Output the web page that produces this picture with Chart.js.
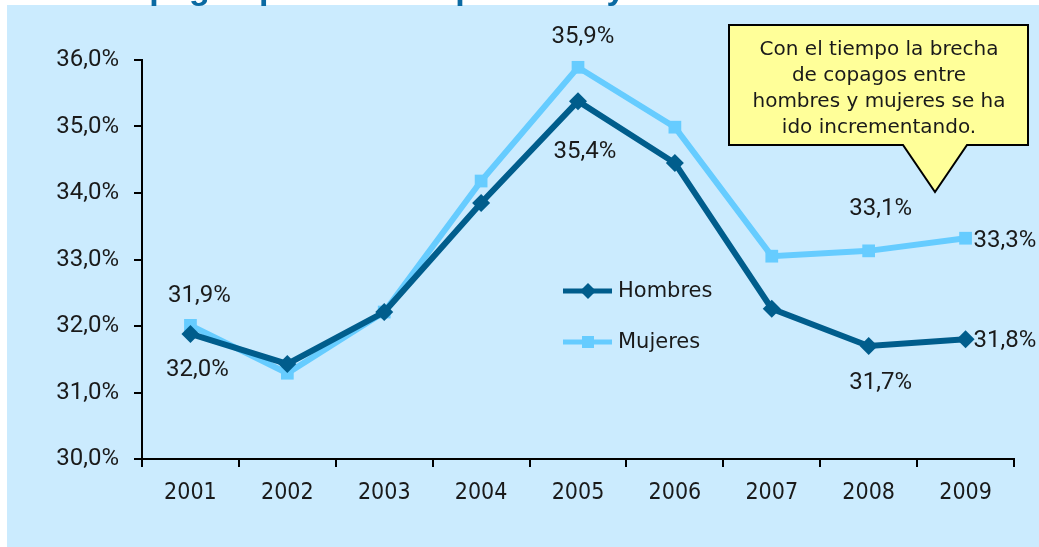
<!DOCTYPE html>
<html>
<head>
<meta charset="utf-8">
<script src="https://cdn.jsdelivr.net/npm/chart.js@4"></script>
<style>
  html, body { margin: 0; padding: 0; background: #ffffff; }
  #wrap { width: 1039px; height: 547px; position: relative; }
</style>
</head>
<body>
<div id="wrap"><canvas id="copagoChart" width="1039" height="547"></canvas></div>
<script>
// datos
const years = ['2001','2002','2003','2004','2005','2006','2007','2008','2009'];
const hombres = [31.88, 31.43, 32.21, 33.85, 35.38, 34.45, 32.26, 31.70, 31.80];
const mujeres = [32.01, 31.29, 32.21, 34.18, 35.89, 34.99, 33.05, 33.13, 33.32];
const yTickLabels = ['30,0%','31,0%','32,0%','33,0%','34,0%','35,0%','36,0%'];
const calloutLines = ['Con el tiempo la brecha', 'de copagos entre', 'hombres y mujeres se ha', 'ido incrementando.'];

// etiquetas de valor: [serie, índice, dx, dy, alineación]
const valueLabels = [
    [0, 0, 9, -38, 'center'],
    [1, 0, 7, 45, 'center'],
    [1, 4, 5, -30, 'center'],
    [0, 4, 7, 51, 'center'],
    [1, 7, 12, -42, 'center'],
    [1, 8, 8, 3, 'left'],
    [0, 8, 8, 2, 'left'],
    [0, 7, 12, 37, 'center']
];

const fmt = v => v.toFixed(1).replace('.', ',') + '%';

const numFont = '24px Roboto, "DejaVu Sans", sans-serif';
const roundFont = '21px "DejaVu Sans", sans-serif';
const noteFont = '20px "DejaVu Sans", sans-serif';

Chart.register({

    id: 'panelAndNotes',

    beforeDraw(chart) {
        const {ctx} = chart;
        ctx.save();
        ctx.fillStyle = '#ffffff';
        ctx.fillRect(0, 0, chart.width, chart.height);
        ctx.fillStyle = '#cbebfe';
        ctx.fillRect(7, 5, chart.width - 7, chart.height - 5);

        // título recortado arriba
        ctx.fillStyle = '#0b6aa2';
        ctx.font = 'bold 34px "Liberation Sans", Arial, sans-serif';
        ctx.textBaseline = 'alphabetic';
        ctx.textAlign = 'left';
        ctx.fillText('Copagos por usuario por sexo y año', 104, -1);
        ctx.restore();
    },

    afterDatasetsDraw(chart) {
        const {ctx} = chart;
        ctx.save();

        // etiquetas de valores
        ctx.fillStyle = '#1a1a1a';
        ctx.font = numFont;
        ctx.textBaseline = 'middle';
        valueLabels.forEach(([ds, i, dx, dy, align]) => {
            const pt = chart.getDatasetMeta(ds).data[i];
            const value = chart.data.datasets[ds].data[i];
            ctx.textAlign = align;
            ctx.fillText(fmt(value), pt.x + dx, pt.y + dy);
        });

        // leyenda dentro del gráfico
        const legendY = [291, 342];
        chart.data.datasets.forEach((dataset, i) => {
            const y = legendY[i];
            ctx.strokeStyle = dataset.borderColor;
            ctx.lineWidth = 5;
            ctx.beginPath();
            ctx.moveTo(563, y);
            ctx.lineTo(612, y);
            ctx.stroke();
            ctx.fillStyle = dataset.borderColor;
            ctx.beginPath();
            if (dataset.pointStyle === 'rectRot') {
                ctx.moveTo(588, y - 8);
                ctx.lineTo(596, y);
                ctx.lineTo(588, y + 8);
                ctx.lineTo(580, y);
            } else {
                ctx.rect(582, y - 6, 12, 12);
            }
            ctx.fill();
            ctx.fillStyle = '#1a1a1a';
            ctx.font = roundFont;
            ctx.textAlign = 'left';
            ctx.fillText(dataset.label, 618, y + 1);
        });

        // globo de comentario
        ctx.beginPath();
        ctx.moveTo(729, 25);
        ctx.lineTo(1028, 25);
        ctx.lineTo(1028, 145);
        ctx.lineTo(967, 145);
        ctx.lineTo(935, 192);
        ctx.lineTo(903, 145);
        ctx.lineTo(729, 145);
        ctx.closePath();
        ctx.fillStyle = '#ffff99';
        ctx.fill();
        ctx.strokeStyle = '#000000';
        ctx.lineWidth = 2;
        ctx.stroke();
        ctx.fillStyle = '#1a1a1a';
        ctx.font = noteFont;
        ctx.textAlign = 'center';
        calloutLines.forEach((line, k) => {
            ctx.fillText(line, 879, 50 + k * 26);
        });

        ctx.restore();
    }

});

const ctx = document.getElementById('copagoChart');

new Chart(ctx, {
    type: 'line',

    data: {
        labels: years,
        datasets: [{
            label: 'Hombres',
            data: hombres,
            borderColor: '#005d8c',
            backgroundColor: '#005d8c',
            borderWidth: 6,
            pointStyle: 'rectRot',
            pointRadius: 9,
            pointBorderWidth: 0,
            tension: 0
        }, {
            label: 'Mujeres',
            data: mujeres,
            borderColor: '#66ccff',
            backgroundColor: '#66ccff',
            borderWidth: 6,
            pointStyle: 'rect',
            pointRadius: 9,
            pointBorderWidth: 0,
            tension: 0
        }]
    },

    options: {
        responsive: false,
        animation: false,
        layout: {
            padding: {left: 0, top: 60, right: 25, bottom: 0}
        },
        plugins: {
            legend: {display: false},
            title: {display: false},
            tooltip: {enabled: false}
        },
        scales: {
            x: {
                offset: true,
                grid: {
                    offset: true,
                    drawOnChartArea: false,
                    color: '#000000',
                    tickLength: 8,
                    lineWidth: 2
                },
                border: {color: '#000000', width: 2},
                ticks: {
                    color: '#1a1a1a',
                    padding: 12,
                    font: {family: '"Liberation Sans Narrow", "DejaVu Sans Condensed", sans-serif', size: 23}
                },
                afterFit(scale) { scale.height = 88; }
            },
            y: {
                min: 30,
                max: 36,
                grid: {
                    drawOnChartArea: false,
                    color: '#000000',
                    tickLength: 8,
                    lineWidth: 2
                },
                border: {color: '#000000', width: 2},
                ticks: {
                    stepSize: 1,
                    color: '#1a1a1a',
                    padding: 15,
                    font: {family: 'Roboto, "DejaVu Sans", sans-serif', size: 24},
                    callback: (value, index) => yTickLabels[index]
                },
                afterFit(scale) { scale.width = 142; }
            }
        }
    }
});
</script>
</body>
</html>
